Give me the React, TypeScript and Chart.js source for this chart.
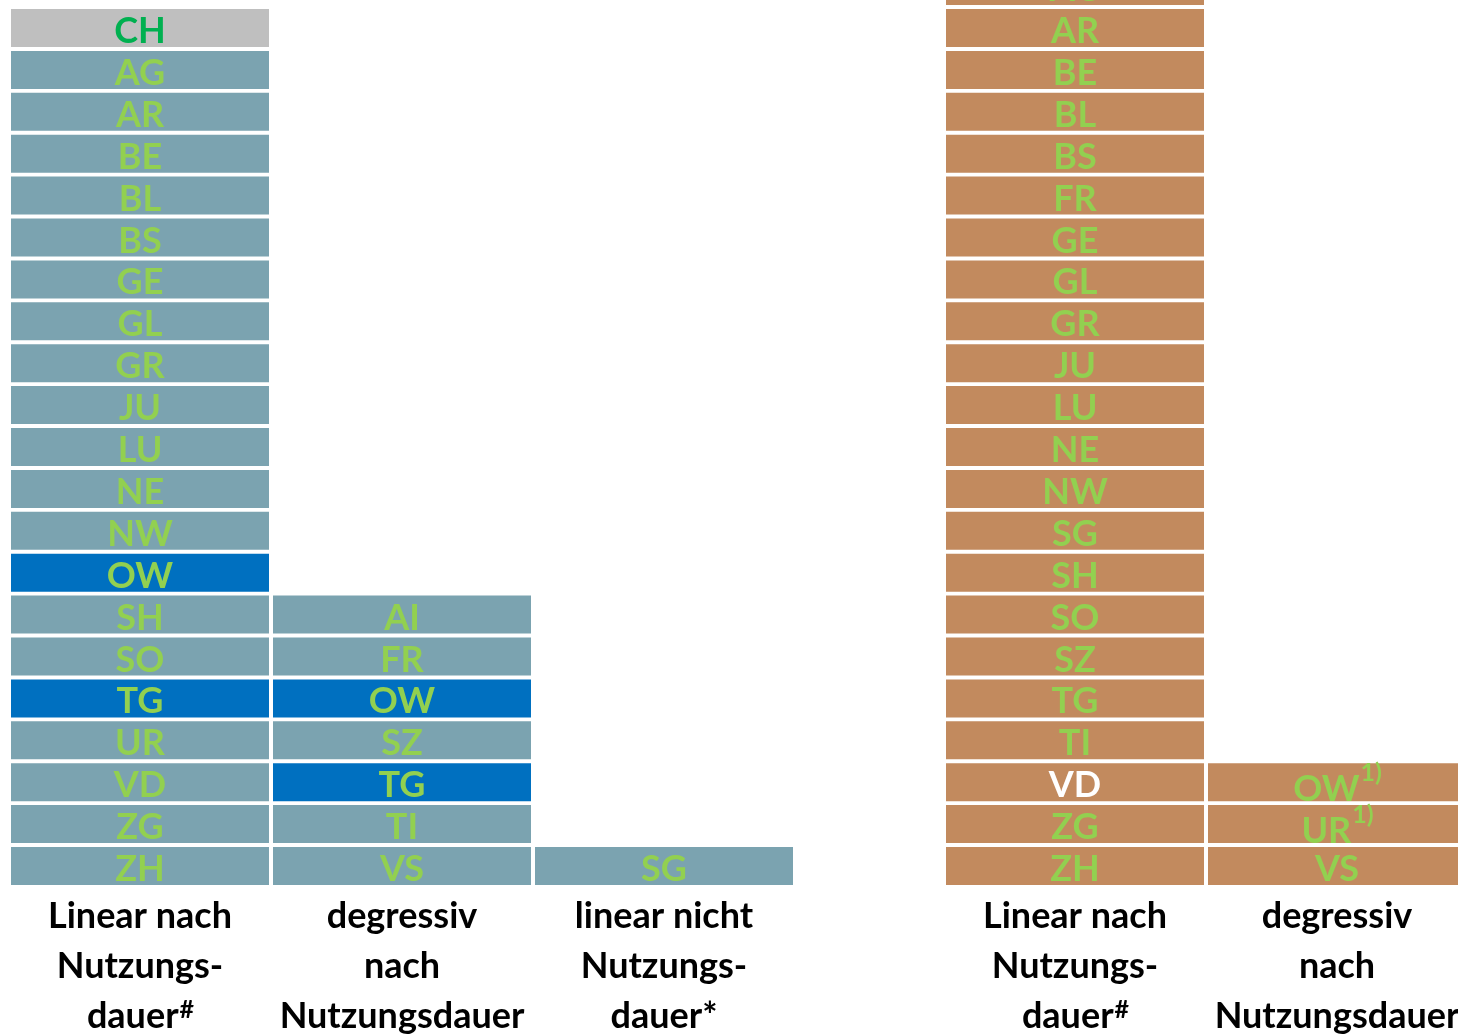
import React, { useEffect, useRef } from 'react';
import { Chart, registerables } from 'chart.js';

Chart.register(...registerables);

// ---------- data ----------
// Left panel (top to bottom in each column)
const leftLinear = ['CH', 'AG', 'AR', 'BE', 'BL', 'BS', 'GE', 'GL', 'GR', 'JU', 'LU', 'NE', 'NW', 'OW', 'SH', 'SO', 'TG', 'UR', 'VD', 'ZG', 'ZH'];
const leftDegressiv = ['AI', 'FR', 'OW', 'SZ', 'TG', 'TI', 'VS'];
const leftLinearNicht = ['SG'];
const leftHighlighted = ['OW', 'TG'];
const leftTotal = ['CH'];

// Right panel
const rightLinear = ['AG', 'AR', 'BE', 'BL', 'BS', 'FR', 'GE', 'GL', 'GR', 'JU', 'LU', 'NE', 'NW', 'SG', 'SH', 'SO', 'SZ', 'TG', 'TI', 'VD', 'ZG', 'ZH'];
const rightDegressiv = ['OW', 'UR', 'VS'];
const rightDegressivSup = ['1)', '1)', ''];
const rightWhiteLabel = ['VD'];

// Category (column) labels: lines + superscript on last line
const leftCategoryLines = [
  ['Linear nach', 'Nutzungs-', 'dauer'],
  ['degressiv', 'nach', 'Nutzungsdauer'],
  ['linear nicht', 'Nutzungs-', 'dauer*'],
];
const leftCategorySup = ['#', '', ''];
const rightCategoryLines = [
  ['Linear nach', 'Nutzungs-', 'dauer'],
  ['degressiv', 'nach', 'Nutzungsdauer'],
];
const rightCategorySup = ['#', ''];

// ---------- styling ----------
const BLOCK = 38 / 41.9; // block height as fraction of one row
const FONT = 'Lato, "Open Sans", sans-serif';
const COL_BLUEGREY = '#7ba3b0';
const COL_BLUE = '#0070c0';
const COL_GREY = '#bfbfbf';
const COL_BROWN = '#c28a5e';
const TXT_GREEN = '#92d050';
const TXT_DARKGREEN = '#00b050';

type Column = { items: string[]; sups?: string[] };

function buildDatasets(columns: Column[], bg: (col: number, label: string) => string) {
  const maxRows = Math.max(...columns.map((c) => c.items.length));
  const datasets: any[] = [];
  for (let r = 0; r < maxRows; r++) {
    const data = columns.map((c) => {
      const n = c.items.length;
      return r < n ? [r, r + BLOCK] : null;
    });
    const colors = columns.map((c, ci) => {
      const n = c.items.length;
      return r < n ? bg(ci, c.items[n - 1 - r]) : 'rgba(0,0,0,0)';
    });
    datasets.push({
      data,
      backgroundColor: colors,
      borderWidth: 0,
      barPercentage: 258 / 262,
      categoryPercentage: 1,
      grouped: false,
    });
  }
  return datasets;
}

function makeLabelPlugin(
  columns: Column[],
  txtColor: (col: number, label: string) => string,
  catLines: string[][],
  catSup: string[]
) {
  return {
    id: 'blockLabels',
    afterDatasetsDraw(chart: any) {
      const ctx = chart.ctx;
      ctx.save();
      chart.data.datasets.forEach((ds: any, r: number) => {
        const meta = chart.getDatasetMeta(r);
        meta.data.forEach((el: any, ci: number) => {
          if (ds.data[ci] == null) return;
          const c = columns[ci];
          const n = c.items.length;
          const idx = n - 1 - r;
          const label = c.items[idx];
          const sup = c.sups ? c.sups[idx] : '';
          const bottom = Math.max(el.y, el.base);
          const top = Math.min(el.y, el.base);
          ctx.fillStyle = txtColor(ci, label);
          ctx.textBaseline = 'alphabetic';
          const mainFont = `bold 36px ${FONT}`;
          const supFont = `bold 25px ${FONT}`;
          if (sup) {
            ctx.font = mainFont;
            const w1 = ctx.measureText(label).width;
            ctx.font = supFont;
            const w2 = ctx.measureText(sup).width;
            const start = el.x - (w1 + w2) / 2;
            ctx.textAlign = 'left';
            ctx.font = mainFont;
            ctx.fillText(label, start, bottom);
            ctx.font = supFont;
            ctx.fillText(sup, start + w1 + 1, top + 18);
          } else {
            ctx.font = mainFont;
            ctx.textAlign = 'center';
            ctx.fillText(label, el.x, bottom - 4);
          }
        });
      });
      ctx.restore();
    },
    afterDraw(chart: any) {
      const ctx = chart.ctx;
      const xs = chart.scales.x;
      ctx.save();
      ctx.fillStyle = '#000000';
      ctx.textBaseline = 'alphabetic';
      catLines.forEach((lines, ci) => {
        const cx = xs.getPixelForValue(ci);
        lines.forEach((line, li) => {
          const y = 928 + li * 50;
          const isLast = li === lines.length - 1;
          const sup = isLast ? catSup[ci] : '';
          ctx.font = `bold 36px ${FONT}`;
          if (sup) {
            const w1 = ctx.measureText(line).width;
            ctx.font = `bold 25px ${FONT}`;
            const w2 = ctx.measureText(sup).width;
            const start = cx - (w1 + w2) / 2;
            ctx.textAlign = 'left';
            ctx.font = `bold 36px ${FONT}`;
            ctx.fillText(line, start, y);
            ctx.font = `bold 25px ${FONT}`;
            ctx.fillText(sup, start + w1 + 1, y - 10);
          } else {
            ctx.textAlign = 'center';
            ctx.fillText(line, cx, y);
          }
        });
      });
      ctx.restore();
    },
  };
}

function PanelChart(props: {
  columns: Column[];
  catLines: string[][];
  catSup: string[];
  bg: (col: number, label: string) => string;
  txt: (col: number, label: string) => string;
  width: number;
  height: number;
  padding: { left: number; right: number; top: number; bottom: number };
  yMax: number;
  style: React.CSSProperties;
}) {
  const ref = useRef<HTMLCanvasElement | null>(null);
  useEffect(() => {
    if (!ref.current) return;
    const chart = new Chart(ref.current, {
      type: 'bar',
      data: {
        labels: props.catLines.map((l) => l.join(' ')),
        datasets: buildDatasets(props.columns, props.bg),
      },
      options: {
        animation: false,
        responsive: false,
        maintainAspectRatio: false,
        devicePixelRatio: 1,
        layout: { padding: props.padding },
        plugins: {
          legend: { display: false },
          tooltip: { enabled: false },
          title: { display: false },
        },
        scales: {
          x: { display: false, stacked: true, grid: { display: false } },
          y: { display: false, stacked: false, min: 0, max: props.yMax, grid: { display: false } },
        },
      } as any,
      plugins: [makeLabelPlugin(props.columns, props.txt, props.catLines, props.catSup)],
    });
    return () => chart.destroy();
  }, []);
  return (
    <canvas
      ref={ref}
      width={props.width}
      height={props.height}
      style={{ position: 'absolute', width: props.width, height: props.height, ...props.style }}
    />
  );
}

export default function App() {
  const leftCols: Column[] = [{ items: leftLinear }, { items: leftDegressiv }, { items: leftLinearNicht }];
  const rightCols: Column[] = [{ items: rightLinear }, { items: rightDegressiv, sups: rightDegressivSup }];
  const leftBg = (ci: number, label: string) => {
    if (ci === 0 && leftTotal.includes(label)) return COL_GREY;
    if (ci < 2 && leftHighlighted.includes(label)) return COL_BLUE;
    return COL_BLUEGREY;
  };
  const leftTxt = (ci: number, label: string) => (leftTotal.includes(label) ? TXT_DARKGREEN : TXT_GREEN);
  const rightBg = () => COL_BROWN;
  const rightTxt = (ci: number, label: string) => (ci === 0 && rightWhiteLabel.includes(label) ? '#ffffff' : TXT_GREEN);

  return (
    <div
      style={{
        position: 'absolute',
        left: 0,
        top: 0,
        width: 1458,
        height: 1035,
        overflow: 'hidden',
        background: '#ffffff',
      }}
    >
      <PanelChart
        columns={leftCols}
        catLines={leftCategoryLines}
        catSup={leftCategorySup}
        bg={leftBg}
        txt={leftTxt}
        width={800}
        height={1035}
        padding={{ left: 9, right: 5, top: 9, bottom: 150 }}
        yMax={20 + BLOCK}
        style={{ left: 0, top: 0 }}
      />
      <PanelChart
        columns={rightCols}
        catLines={rightCategoryLines}
        catSup={rightCategorySup}
        bg={rightBg}
        txt={rightTxt}
        width={530}
        height={1035}
        padding={{ left: 4, right: 2, top: 0, bottom: 150 }}
        yMax={885 / 41.9}
        style={{ left: 940, top: 0 }}
      />
    </div>
  );
}
